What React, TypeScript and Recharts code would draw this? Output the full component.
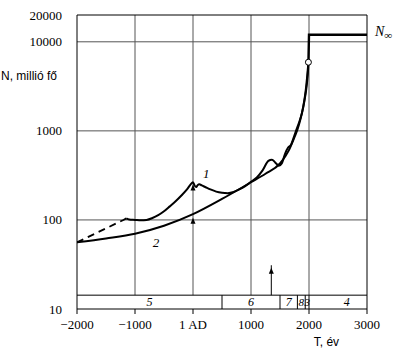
import {
  LineChart,
  Line,
  XAxis,
  YAxis,
  ReferenceLine,
  ReferenceDot,
} from "recharts";

// year, population (million)
const curve1Dashed = [
  [-2000, 56],
  [-1200, 100],
  [-1150, 104],
];

const curve1 = [
  [-1150, 104], [-1100, 101], [-1000, 100], [-900, 99], [-800, 100],
  [-700, 105], [-600, 113], [-500, 125], [-400, 142], [-300, 162],
  [-200, 188], [-100, 222], [-20, 260], [0, 265], [30, 242], [55, 234],
  [80, 246], [110, 252], [150, 244], [200, 236], [300, 220], [400, 208],
  [500, 202], [600, 200], [700, 206], [800, 220], [900, 240], [1000, 268],
  [1100, 300], [1200, 360], [1300, 460], [1360, 475], [1420, 440],
  [1480, 405], [1530, 430], [1590, 560], [1640, 650], [1690, 700],
  [1730, 820], [1780, 1020], [1830, 1250], [1880, 1600], [1920, 2150],
  [1950, 2850], [1970, 3700], [1985, 5000], [1990, 5900],
];

const curve2 = [
  [-2000, 56], [-1500, 62], [-1000, 70], [-500, 86], [0, 116],
  [500, 172], [1000, 265], [1250, 330], [1500, 430], [1650, 600],
  [1750, 850], [1800, 1030], [1850, 1330], [1900, 1860], [1930, 2450],
  [1950, 3100], [1970, 4200], [1990, 5900],
];

const asymptote = [
  [1990, 5900],
  [2000, 12000],
  [3000, 12000],
];

const xTicks = [-2000, -1000, 0, 1000, 2000, 3000];
const yTicks = [10, 100, 1000, 10000, 20000];
const gridYears = [-1000, 0, 1000, 2000];
const gridValues = [100, 1000, 10000];

const bandTop = 14.3;
const bandDividers = [500, 1500, 1800, 1935];
const bandLabels = [
  { x: -750, text: "5", size: 12 },
  { x: 1000, text: "6", size: 12 },
  { x: 1650, text: "7", size: 12 },
  { x: 1866, text: "8", size: 11 },
  { x: 1970, text: "3", size: 11 },
  { x: 2650, text: "4", size: 12 },
];

const toPoints = (rows: number[][]) => rows.map(([x, y]) => ({ x, y }));

const SERIF = "'Liberation Serif', 'Times New Roman', serif";
const SANS = "'Liberation Sans', Arial, sans-serif";
const GRID = "#555";

const fmtYear = (v: number) =>
  v === 0 ? "1 AD" : v < 0 ? "\u2212" + Math.abs(v) : String(v);

const XTick = (p: any) => (
  <text
    x={p.x}
    y={p.y + 9}
    textAnchor="middle"
    fontFamily={SERIF}
    fontSize={13}
    fill="#000"
  >
    {fmtYear(p.payload.value)}
  </text>
);

const YTick = (p: any) => (
  <text
    x={p.x}
    y={p.y + 4.5}
    textAnchor="end"
    fontFamily={SERIF}
    fontSize={13}
    fill="#000"
  >
    {p.payload.value}
  </text>
);

const textShape =
  (text: string, dx = 0, dy = 0, opts: any = {}) =>
  (p: any) =>
    (
      <text
        x={p.cx + dx}
        y={p.cy + dy}
        textAnchor={opts.anchor || "middle"}
        dominantBaseline="central"
        fontFamily={opts.font || SERIF}
        fontStyle={opts.italic === false ? "normal" : "italic"}
        fontSize={opts.size || 13}
        fill="#000"
      >
        {text}
      </text>
    );

const arrowHead = (p: any) => (
  <path
    d={`M${p.cx},${p.cy} L${p.cx - 2.5},${p.cy + 6} L${p.cx + 2.5},${p.cy + 6} Z`}
    fill="#000"
  />
);

export default function App() {
  return (
    <div
      style={{
        position: "absolute",
        left: 0,
        top: 0,
        background: "#fff",
        fontFamily: SERIF,
      }}
    >
      <LineChart
        width={396}
        height={363}
        margin={{ top: 15, right: 29, left: 0, bottom: 0 }}
      >
        <XAxis
          type="number"
          dataKey="x"
          domain={[-2000, 3000]}
          ticks={xTicks}
          height={54}
          stroke="#000"
          tickSize={5}
          tickMargin={6}
          tick={<XTick />}
          allowDataOverflow
        />
        <YAxis
          type="number"
          scale="log"
          domain={[10, 20000]}
          ticks={yTicks}
          width={77}
          stroke="#000"
          tickLine={false}
          tickMargin={9}
          tick={<YTick />}
          allowDataOverflow
        />

        {gridValues.map((v) => (
          <ReferenceLine key={"h" + v} y={v} stroke={GRID} />
        ))}
        {gridYears.map((x) => (
          <ReferenceLine
            key={"v" + x}
            segment={[
              { x, y: bandTop },
              { x, y: 20000 },
            ]}
            stroke={GRID}
          />
        ))}
        <ReferenceLine y={20000} stroke="#000" />
        <ReferenceLine x={3000} stroke="#000" />

        <ReferenceLine y={bandTop} stroke="#000" />
        {bandDividers.concat([2000]).map((x) => (
          <ReferenceLine
            key={"d" + x}
            segment={[
              { x, y: 10 },
              { x, y: bandTop },
            ]}
            stroke="#000"
          />
        ))}
        {bandLabels.map((b) => (
          <ReferenceDot
            key={"l" + b.x}
            x={b.x}
            y={12}
            ifOverflow="visible"
            shape={textShape(b.text, 0, 0, { size: b.size })}
          />
        ))}

        <ReferenceLine
          segment={[
            { x: 1350, y: bandTop },
            { x: 1350, y: 31 },
          ]}
          stroke="#000"
        />
        <ReferenceDot x={1350} y={29} ifOverflow="visible" shape={arrowHead} />
        <ReferenceDot x={0} y={106} ifOverflow="visible" shape={arrowHead} />
        <ReferenceDot x={0} y={250} ifOverflow="visible" shape={arrowHead} />

        <Line
          data={toPoints(curve1Dashed)}
          dataKey="y"
          stroke="#000"
          strokeWidth={1.8}
          strokeDasharray="7 5"
          dot={false}
          isAnimationActive={false}
        />
        <Line
          data={toPoints(curve2)}
          dataKey="y"
          type="monotone"
          stroke="#000"
          strokeWidth={2}
          dot={false}
          isAnimationActive={false}
        />
        <Line
          data={toPoints(curve1)}
          dataKey="y"
          type="monotone"
          stroke="#000"
          strokeWidth={2}
          dot={false}
          isAnimationActive={false}
        />
        <Line
          data={toPoints(asymptote)}
          dataKey="y"
          stroke="#000"
          strokeWidth={2.4}
          dot={false}
          isAnimationActive={false}
        />
        <ReferenceDot
          x={1990}
          y={5900}
          r={3}
          fill="#fff"
          stroke="#000"
          strokeWidth={1}
          ifOverflow="visible"
        />

        <ReferenceDot x={230} y={330} ifOverflow="visible" shape={textShape("1")} />
        <ReferenceDot x={-640} y={56} ifOverflow="visible" shape={textShape("2")} />
        <ReferenceDot
          x={3000}
          y={12000}
          ifOverflow="visible"
          shape={(p: any) => (
            <text
              x={p.cx + 8}
              y={p.cy - 3}
              fontFamily={SERIF}
              fontStyle="italic"
              fontSize={14}
              dominantBaseline="central"
              fill="#000"
            >
              N
              <tspan fontSize={11} dy={3}>
                ∞
              </tspan>
            </text>
          )}
        />
        <ReferenceDot
          x={-2000}
          y={4100}
          ifOverflow="visible"
          shape={textShape("N, millió fő", -76, 0, {
            anchor: "start",
            font: SANS,
            italic: false,
            size: 12,
          })}
        />
        <ReferenceDot
          x={2300}
          y={10}
          ifOverflow="visible"
          shape={textShape("T, év", 0, 33, { font: SANS, italic: false, size: 12 })}
        />
      </LineChart>
    </div>
  );
}
